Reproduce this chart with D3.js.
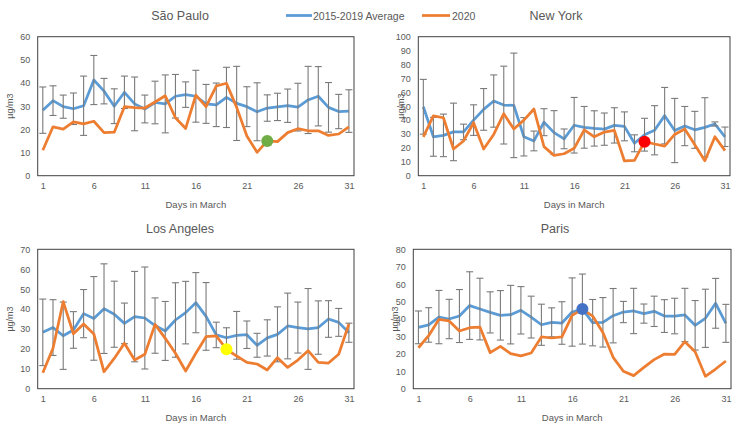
<!DOCTYPE html>
<html>
<head>
<meta charset="utf-8">
<script src="https://cdn.jsdelivr.net/npm/d3@7/dist/d3.min.js"></script>
<style>
  html, body { margin: 0; padding: 0; background: #fff; }
  svg { display: block; font-family: "Liberation Sans", Arial, sans-serif; }
</style>
</head>
<body>
<svg id="chart" width="743" height="429"></svg>
<script>
// ---------- DATA ----------
const days = [1,2,3,4,5,6,7,8,9,10,11,12,13,14,15,16,17,18,19,20,21,22,23,24,25,26,27,28,29,30,31];
const xTickLabels = [1, 6, 11, 16, 21, 26, 31];
const seriesNames = ["2015-2019 Average", "2020"];

const saoPauloAvg  = [28.3,32.4,29.8,28.9,30.2,41.3,36.5,30,36,31,28.8,31.6,31,34.3,35,34.3,31,30.6,33.8,31.2,29.8,27.6,29.2,29.7,30.2,29.6,32.7,34.3,29.5,27.7,27.9];
const saoPauloSd   = [10,6.4,5,6.8,12.8,10.6,5.5,7.5,7,11.6,6,9.2,12.5,9.4,5.5,11.2,8.4,9.4,13,16,8.6,12.5,5.7,5.9,7.2,10.3,14.5,12.8,10.7,7.4,9.2];
const saoPaulo2020 = [11,21.1,20.1,23.2,22.4,23.5,18.6,18.8,29.8,29.4,29.2,31.8,34.5,25,20.4,34.8,29.8,38.7,39.9,29.5,17.1,10.1,15,14.7,18.6,20.3,19.4,19.4,17.4,18,21.1];

const newYorkAvg  = [49.6,28,29,31.5,31.5,40,47.7,53.7,50.8,50.6,28,25,38.5,31,26.5,36.3,34.8,34,33.5,36.2,35.5,23.3,29.5,32.7,43.2,32.5,35.7,33,34.8,37.2,28];
const newYorkSd   = [19.7,14,15.3,20.7,5.6,11,15,18.8,28,37.6,13.8,7.1,9.7,15.8,7.1,20,15,12.7,11.6,12.7,10.4,6.1,11.8,17.7,20.3,23.1,14.1,13.3,21.3,1.5,7];
const newYork2020 = [28,43,41.7,19.2,25,38.1,19.2,29.7,44.6,33.6,40,48,20.9,14.6,15.8,19.7,32.9,28,31.4,32.6,10.6,11,24.5,22.8,21.3,29.7,33.6,22.3,10.8,28,18];

const losAngelesAvg  = [28.3,30.7,26.6,29.5,37.7,35.3,40.2,37.4,32.8,36.2,35.5,31.7,29,34.5,38.2,43.2,36.3,27,25.6,26.8,27.1,21.8,25.5,27.3,31.5,30.7,30,30.7,35,33.3,28.1];
const losAngelesSd   = [16.7,14,16.9,9.2,12.1,21,22.5,16.6,10.2,22.7,25.6,13.9,14.8,18.7,15.7,15.1,17,6.4,5,12,6.9,6,9.1,13.8,16.5,12.8,20.3,13.4,9.2,7,4.8];
const losAngeles2020 = [8,20.3,43.7,27.6,32.5,27.5,8.5,15.2,22.8,14.4,17.3,32.3,25.3,17.8,8.9,17.8,26.1,26.5,19.8,16.4,13.2,12.4,9.4,15.6,10.7,14.4,19.1,13.2,12.9,17.3,32.5];

const parisAvg  = [35.2,36.6,41.1,40,41.7,47.7,45.7,43.8,42.1,42.5,45,41.1,36.7,38.1,37.7,44,45.7,37.9,38.1,41.9,44,44.6,43.1,44.4,41.7,41.7,42.3,36.4,40.4,49,37.5];
const parisSd   = [9.4,9.9,15.3,11.3,15.2,19.4,17.7,11.8,14.2,16.8,13.6,12,11.8,8.3,12.2,19.6,20.1,13.3,14.2,15.6,6.1,13,5.5,8.7,9.4,10.2,15.3,14.2,16.7,14.3,10.9];
const paris2020 = [23.5,30.4,39.8,38.9,33.1,35,35.4,20.7,24.3,20.1,18.8,20.5,29.7,29.1,29.7,42.1,45.7,41.7,32.2,18,10,7.5,12.2,16.7,19.9,19.7,27,21.2,7.1,11.3,15.9];

const cityNames = ["São Paulo", "New York", "Los Angeles", "Paris"];
const yMaxes = [60, 100, 70, 80];
const yTickSteps = [10, 10, 10, 10];
const highlightDays = [23, 23, 19, 17];
const highlightColors = ["#70AD47", "#FF0000", "#FFFF00", "#4472C4"];

// ---------- LAYOUT ----------
const panels = [
  { name: cityNames[0], avg: saoPauloAvg, sd: saoPauloSd, cur: saoPaulo2020, yMax: yMaxes[0], step: yTickSteps[0], hl: highlightDays[0], hlc: highlightColors[0],
    left: 37.7, right: 354, top: 36.7, bottom: 175.7, titleX: 180, titleY: 20, yTitleX: 10 },
  { name: cityNames[1], avg: newYorkAvg, sd: newYorkSd, cur: newYork2020, yMax: yMaxes[1], step: yTickSteps[1], hl: highlightDays[1], hlc: highlightColors[1],
    left: 418.3, right: 730, top: 36.7, bottom: 175.7, titleX: 556, titleY: 20, yTitleX: 400.5 },
  { name: cityNames[2], avg: losAngelesAvg, sd: losAngelesSd, cur: losAngeles2020, yMax: yMaxes[2], step: yTickSteps[2], hl: highlightDays[2], hlc: highlightColors[2],
    left: 37.7, right: 354, top: 249.3, bottom: 388.7, titleX: 180, titleY: 233, yTitleX: 10 },
  { name: cityNames[3], avg: parisAvg, sd: parisSd, cur: paris2020, yMax: yMaxes[3], step: yTickSteps[3], hl: highlightDays[3], hlc: highlightColors[3],
    left: 413.3, right: 731, top: 249.3, bottom: 388.7, titleX: 555, titleY: 233, yTitleX: 395 }
];

const colAvg = "#5B9BD5", col2020 = "#ED7D31", textCol = "#595959";
const svg = d3.select("#chart");

panels.forEach(p => {
  const g = svg.append("g");
  const x = d3.scalePoint().domain(days).range([p.left, p.right]).padding(0.5);
  const y = d3.scaleLinear().domain([0, p.yMax]).range([p.bottom, p.top]);

  // title
  g.append("text").attr("x", p.titleX).attr("y", p.titleY).attr("text-anchor", "middle")
    .attr("fill", textCol).attr("font-size", "12.5px").text(p.name);

  // y axis (labels only)
  const yAxis = d3.axisLeft(y).tickValues(d3.range(0, p.yMax + 1, p.step)).tickSize(0).tickPadding(7.5);
  const ya = g.append("g").attr("transform", `translate(${p.left},0)`).call(yAxis);
  ya.select(".domain").remove();
  ya.selectAll("text").attr("fill", textCol).attr("font-size", "9px").attr("font-family", "Liberation Sans, Arial, sans-serif");

  // x axis (labels only)
  const xAxis = d3.axisBottom(x).tickValues(xTickLabels).tickSize(0).tickPadding(7);
  const xa = g.append("g").attr("transform", `translate(0,${p.bottom})`).call(xAxis);
  xa.select(".domain").remove();
  xa.selectAll("text").attr("fill", textCol).attr("font-size", "9px").attr("font-family", "Liberation Sans, Arial, sans-serif");

  // axis titles
  g.append("text").attr("x", (p.left + p.right) / 2).attr("y", p.bottom + 32).attr("text-anchor", "middle")
    .attr("fill", textCol).attr("font-size", "9.5px").text("Days in March");
  g.append("text").attr("transform", `translate(${p.yTitleX + 3},${(p.top + p.bottom) / 2}) rotate(-90)`)
    .attr("text-anchor", "middle").attr("fill", textCol).attr("font-size", "9px").text("µg/m3");

  // plot border
  g.append("rect").attr("x", p.left).attr("y", p.top).attr("width", p.right - p.left).attr("height", p.bottom - p.top)
    .attr("fill", "none").attr("stroke", "#404040").attr("stroke-width", 1);

  const line = d3.line().x((d, i) => x(days[i])).y(d => y(d));

  // average line
  g.append("path").datum(p.avg).attr("d", line).attr("fill", "none").attr("stroke", colAvg)
    .attr("stroke-width", 2.75).attr("stroke-linejoin", "round");

  // error bars
  const eb = g.append("g").attr("stroke", "#7a7a7a").attr("stroke-width", 1.1);
  p.avg.forEach((m, i) => {
    const cx = x(days[i]);
    const hi = y(m + p.sd[i]), lo = y(m - p.sd[i]);
    eb.append("line").attr("x1", cx).attr("x2", cx).attr("y1", hi).attr("y2", lo);
    eb.append("line").attr("x1", cx - 3.5).attr("x2", cx + 3.5).attr("y1", hi).attr("y2", hi);
    eb.append("line").attr("x1", cx - 3.5).attr("x2", cx + 3.5).attr("y1", lo).attr("y2", lo);
  });

  // 2020 line
  g.append("path").datum(p.cur).attr("d", line).attr("fill", "none").attr("stroke", col2020)
    .attr("stroke-width", 2.75).attr("stroke-linejoin", "round");

  // highlight dot
  const hi = days.indexOf(p.hl);
  g.append("circle").attr("cx", x(p.hl)).attr("cy", y(p.cur[hi])).attr("r", 6).attr("fill", p.hlc);
});

// legend
const lg = svg.append("g").attr("font-size", "10.5px").attr("fill", textCol);
lg.append("line").attr("x1", 286).attr("x2", 312).attr("y1", 15.5).attr("y2", 15.5).attr("stroke", colAvg).attr("stroke-width", 2.75);
lg.append("text").attr("x", 313).attr("y", 19.5).text(seriesNames[0]);
lg.append("line").attr("x1", 422).attr("x2", 450).attr("y1", 15.5).attr("y2", 15.5).attr("stroke", col2020).attr("stroke-width", 2.75);
lg.append("text").attr("x", 452).attr("y", 19.5).text(seriesNames[1]);
</script>
</body>
</html>
